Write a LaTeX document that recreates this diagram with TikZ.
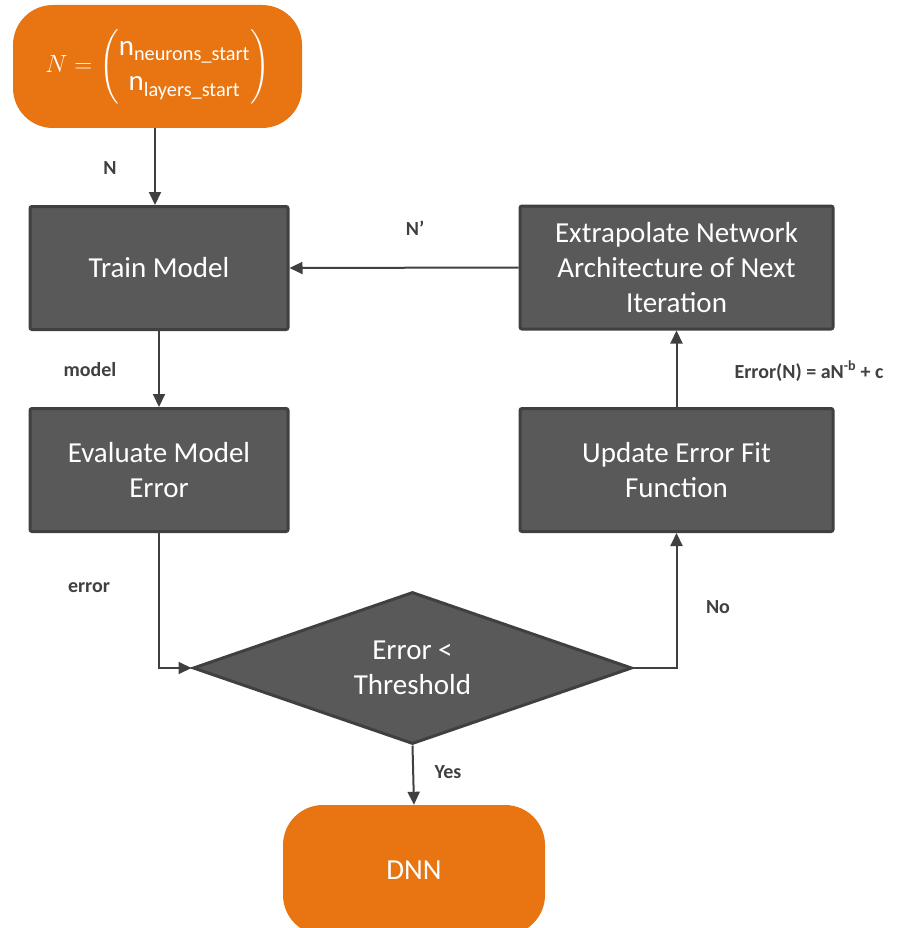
\documentclass[tikz,border=0pt]{standalone}
\usepackage{amsmath}
\usepackage{fontspec}
\setmainfont{Carlito}
\usepackage{tikz}
\usetikzlibrary{shapes.geometric,arrows.meta}

\definecolor{boxorange}{HTML}{E87511}
\definecolor{boxgrey}{HTML}{595959}
\definecolor{lineGrey}{HTML}{404040}

\tikzset{
  process/.style={draw=lineGrey, line width=3pt, fill=boxgrey, text=white,
    rounded corners=2pt, align=center, font=\fontsize{29}{35}\selectfont,
    inner sep=0pt},
  terminal/.style={fill=boxorange, text=white, rounded corners=40pt,
    align=center, font=\fontsize{29}{35}\selectfont, inner sep=0pt},
  decision/.style={diamond, aspect=2.9, draw=lineGrey, line width=3pt, fill=boxgrey,
    text=white, align=center, font=\fontsize{29}{35}\selectfont, inner sep=0pt},
  flow/.style={draw=lineGrey, line width=2pt,
    -{Triangle[width=12pt,length=13pt]}},
  lbl/.style={text=lineGrey, font=\fontsize{20}{24}\selectfont\bfseries}
}

\begin{document}
\begin{tikzpicture}[x=1pt,y=-1pt]
    \useasboundingbox (0,0) rectangle (901,928);

    % Draw the start and end boxes
    \node[terminal, minimum width=289pt, minimum height=123pt] (start) at (157.5,66.5)
      {$N=\begin{pmatrix}\text{n}_{\text{neurons\_start}}\\ \text{n}_{\text{layers\_start}}\end{pmatrix}$};
    \node[terminal, minimum width=262pt, minimum height=130pt] (dnn) at (414,870) {DNN};

    % Draw the process boxes
    \node[process, minimum width=258pt, minimum height=123pt] (train) at (159,268) {Train Model};
    \node[process, minimum width=258pt, minimum height=123pt] (eval) at (159,470) {Evaluate Model\\Error};
    \node[process, minimum width=313pt, minimum height=123pt] (extra) at (676.5,267.5)
      {Extrapolate Network\\Architecture of Next\\Iteration};
    \node[process, minimum width=313pt, minimum height=123pt] (update) at (676.5,470)
      {Update Error Fit\\Function};

    % Draw the decision
    \node[decision, minimum width=439pt, minimum height=152pt] (check) at (412.5,668)
      {Error <\\Threshold};

    % Draw arrows
    \draw[flow] (start.south -| 155,0) -- (train.north -| 155,0);
    \draw[flow] (train) -- (eval);
    \draw[flow] (eval.south) |- (check.west);
    \draw[flow] (check.east) -| (update.south);
    \draw[flow] (update) -- (extra);
    \draw[flow] (extra.west) -- (train.east);
    \draw[flow] (check.south) -- (dnn.north);

    % Add labels on the arrows
    \node[lbl] (lN) at (110,168) {N};
    \node[lbl] (lNp) at (415,228) {N’};
    \node[lbl] (lmodel) at (90,370) {model};
    \node[lbl] (lerror) at (89,588) {error};
    \node[lbl] (lno) at (718,607) {No};
    \node[lbl] (lyes) at (448,772) {Yes};
    \node[lbl] (lfit) at (809,371) {Error(N) = aN\textsuperscript{-b} + c};
\end{tikzpicture}
\end{document}
